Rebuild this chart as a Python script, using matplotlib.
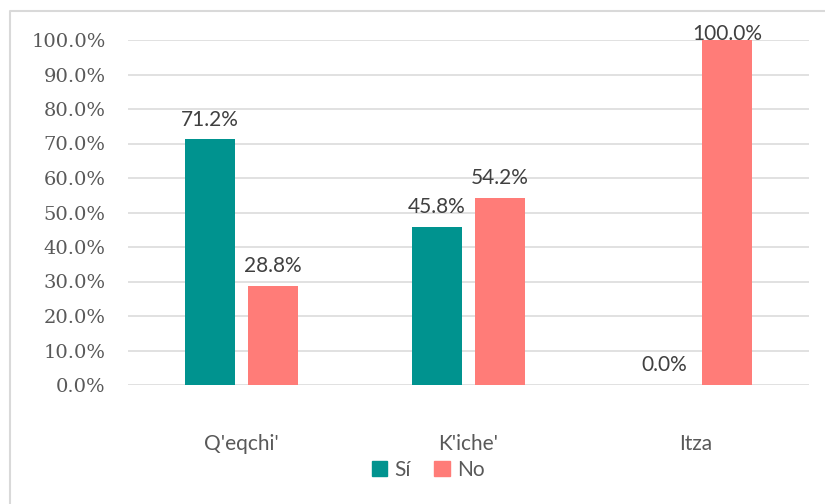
import numpy as np
import matplotlib.pyplot as plt
from matplotlib.lines import Line2D
from matplotlib.patches import Patch

# datos
categorias = ["Q'eqchi'", "K'iche'", "Itza"]
si = [71.2, 45.8, 0.0]
no = [28.8, 54.2, 100.0]
series = ["Sí", "No"]
yticks = np.arange(0, 101, 10)

color_si = '#00938F'
color_no = '#FF7C78'
gris_texto = '#595959'

fig = plt.figure(figsize=(8.25, 5.04), dpi=100)
ax = fig.add_axes([128 / 825, 1 - 385 / 504, (809 - 128) / 825, 345 / 504])

x = np.arange(len(categorias))
ancho = 0.224
desp = 0.139

b1 = ax.bar(x - desp, si, ancho, color=color_si, zorder=3)
b2 = ax.bar(x + desp, no, ancho, color=color_no, zorder=3)

# etiquetas de valor (la de 100% queda pegada a la barra, como en Excel)
for barras, vals in [(b1, si), (b2, no)]:
    for b, v in zip(barras, vals):
        off = -3 if v >= 95 else 7
        ax.annotate(f'{v:.1f}%', (b.get_x() + b.get_width() / 2, v),
                    xytext=(0, off), textcoords='offset points',
                    ha='center', va='bottom', fontsize=15,
                    family='Lato', color='#404040', zorder=4)

ax.set_xlim(-0.5, len(categorias) - 0.5)
ax.set_ylim(0, 100)
ax.set_yticks(yticks)
ax.set_yticklabels([f'{t:.1f}%' for t in yticks], family='DejaVu Serif',
                   fontsize=14, color=gris_texto)
ax.tick_params(axis='y', length=0, pad=16)
ax.set_xticks(x)
ax.set_xticklabels(categorias, family='Lato', fontsize=15, color=gris_texto)
ax.tick_params(axis='x', length=0, pad=35)

ax.grid(axis='y', color='#D9D9D9', linewidth=1.1, zorder=0)
ax.set_axisbelow(True)
for s in ax.spines.values():
    s.set_visible(False)

# leyenda
handles = [Patch(color=color_si), Patch(color=color_no)]
fig.legend(handles, series, loc='center', bbox_to_anchor=(428 / 825, 1 - 470 / 504),
           ncol=2, frameon=False, handlelength=0.75, handleheight=0.75,
           handletextpad=0.35, columnspacing=1.1,
           prop={'family': 'Lato', 'size': 15}, labelcolor=gris_texto)

# marco del gráfico
fig.add_artist(Line2D([10 / 825, 10 / 825, 1], [0, 1 - 11 / 504, 1 - 11 / 504],
                      transform=fig.transFigure, color='#D9D9D9', linewidth=1.5))

fig.savefig('out.png', dpi=100)
